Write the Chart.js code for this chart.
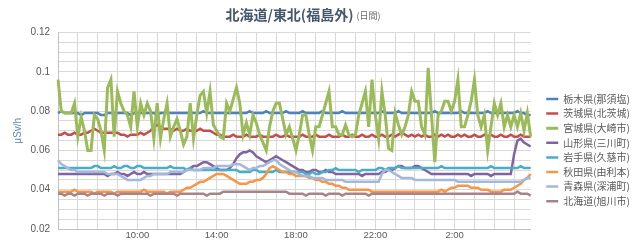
<!DOCTYPE html>
<html>
<head>
<meta charset="utf-8">
<script src="https://cdn.jsdelivr.net/npm/chart.js@4.4.1/dist/chart.umd.min.js"></script>
<style>
  html, body { margin: 0; padding: 0; background: #fff; }
</style>
</head>
<body>
<canvas id="myChart" width="640" height="240"></canvas>
<script>
// 10-minute readings, 6:00 -> 5:50 next day
let timeLabels = [];
for (let i = 0; i < 144; i++) {
  let m = 6 * 60 + i * 10;
  timeLabels.push((Math.floor(m / 60) % 24) + ':' + String(m % 60).padStart(2, '0'));
}
let shownHours = ['10:00', '14:00', '18:00', '22:00', '2:00'];
let yTickLabels = [0.02, 0.04, 0.06, 0.08, 0.1, 0.12];

let mainTitle = '北海道/東北(福島外)';
let subTitle = '(日間)';
let yTitle = 'μSv/h';

let seriesNames = ['栃木県(那須塩)', '茨城県(北茨城)', '宮城県(大崎市)', '山形県(三川町)',
  '岩手県(久慈市)', '秋田県(由利本)', '青森県(深浦町)', '北海道(旭川市)'];

let tochigi = [
  0.079,0.080,0.079,0.079,0.079,0.079,0.079,0.078,0.079,0.079,0.079,0.079,
  0.079,0.078,0.078,0.079,0.079,0.079,0.079,0.079,0.079,0.079,0.078,0.079,
  0.079,0.079,0.079,0.079,0.079,0.079,0.078,0.079,0.079,0.079,0.079,0.079,
  0.079,0.079,0.079,0.079,0.079,0.079,0.079,0.079,0.080,0.079,0.079,0.079,
  0.079,0.079,0.079,0.079,0.079,0.079,0.079,0.079,0.079,0.079,0.080,0.079,
  0.079,0.079,0.079,0.080,0.079,0.079,0.079,0.079,0.079,0.080,0.079,0.079,
  0.079,0.079,0.080,0.079,0.079,0.079,0.079,0.079,0.080,0.079,0.079,0.079,
  0.079,0.079,0.080,0.079,0.079,0.079,0.079,0.079,0.079,0.079,0.079,0.079,
  0.079,0.079,0.080,0.079,0.079,0.079,0.079,0.080,0.079,0.079,0.079,0.079,
  0.079,0.079,0.079,0.079,0.079,0.079,0.080,0.079,0.079,0.079,0.079,0.079,
  0.079,0.079,0.080,0.079,0.079,0.079,0.079,0.079,0.079,0.079,0.080,0.079,
  0.079,0.079,0.079,0.079,0.079,0.079,0.079,0.080,0.079,0.079,0.078,0.078
];
let ibaraki = [
  0.068,0.068,0.069,0.068,0.068,0.069,0.068,0.068,0.069,0.069,0.070,0.071,
  0.070,0.069,0.069,0.069,0.069,0.069,0.069,0.068,0.068,0.067,0.068,0.068,
  0.068,0.069,0.068,0.069,0.070,0.072,0.073,0.072,0.071,0.071,0.071,0.070,
  0.071,0.070,0.070,0.071,0.070,0.070,0.070,0.071,0.070,0.070,0.070,0.069,
  0.068,0.068,0.067,0.067,0.067,0.068,0.067,0.067,0.067,0.068,0.067,0.067,
  0.067,0.068,0.067,0.067,0.067,0.067,0.068,0.067,0.067,0.068,0.067,0.067,
  0.067,0.067,0.068,0.067,0.067,0.067,0.068,0.067,0.067,0.067,0.068,0.067,
  0.067,0.067,0.068,0.067,0.067,0.068,0.067,0.067,0.068,0.067,0.067,0.068,
  0.067,0.067,0.068,0.067,0.067,0.068,0.067,0.068,0.069,0.068,0.067,0.068,
  0.067,0.068,0.067,0.068,0.067,0.067,0.068,0.067,0.068,0.067,0.068,0.067,
  0.067,0.068,0.067,0.068,0.067,0.067,0.068,0.067,0.067,0.068,0.067,0.068,
  0.067,0.067,0.068,0.067,0.067,0.068,0.067,0.067,0.068,0.067,0.067,0.067
];
let miyagi = [
  0.096,0.080,0.079,0.079,0.079,0.084,0.067,0.077,0.070,0.060,0.060,0.078,
  0.076,0.070,0.060,0.092,0.096,0.067,0.090,0.084,0.080,0.078,0.072,0.090,
  0.072,0.084,0.078,0.084,0.080,0.066,0.084,0.066,0.076,0.084,0.067,0.072,
  0.076,0.070,0.063,0.067,0.084,0.066,0.078,0.088,0.090,0.079,0.090,0.073,
  0.070,0.067,0.066,0.084,0.080,0.086,0.092,0.084,0.068,0.074,0.068,0.078,
  0.074,0.068,0.064,0.060,0.072,0.080,0.084,0.084,0.076,0.068,0.072,0.066,
  0.060,0.068,0.078,0.078,0.068,0.060,0.072,0.072,0.078,0.084,0.090,0.072,
  0.072,0.068,0.068,0.073,0.068,0.067,0.068,0.078,0.084,0.090,0.072,0.096,
  0.078,0.066,0.090,0.078,0.061,0.060,0.079,0.073,0.068,0.072,0.078,0.090,
  0.085,0.085,0.072,0.068,0.102,0.078,0.054,0.078,0.080,0.085,0.085,0.080,
  0.085,0.096,0.072,0.072,0.078,0.085,0.096,0.078,0.072,0.078,0.060,0.072,
  0.084,0.078,0.084,0.072,0.078,0.072,0.078,0.072,0.079,0.070,0.079,0.067
];
let yamagata = [
  0.048,0.048,0.048,0.048,0.048,0.048,0.048,0.048,0.048,0.048,0.048,0.048,
  0.048,0.048,0.048,0.047,0.048,0.048,0.049,0.048,0.048,0.047,0.048,0.049,
  0.048,0.048,0.049,0.048,0.048,0.048,0.048,0.048,0.048,0.048,0.048,0.048,
  0.048,0.048,0.049,0.050,0.051,0.052,0.052,0.053,0.054,0.054,0.053,0.052,
  0.051,0.050,0.050,0.050,0.051,0.053,0.056,0.058,0.059,0.059,0.060,0.059,
  0.057,0.056,0.055,0.054,0.055,0.056,0.057,0.056,0.055,0.054,0.053,0.052,
  0.051,0.050,0.050,0.049,0.049,0.050,0.050,0.049,0.049,0.050,0.049,0.049,
  0.048,0.048,0.048,0.048,0.048,0.048,0.048,0.048,0.047,0.048,0.048,0.048,
  0.048,0.048,0.049,0.049,0.050,0.050,0.051,0.052,0.052,0.051,0.051,0.051,
  0.052,0.052,0.051,0.050,0.049,0.048,0.048,0.048,0.048,0.048,0.048,0.048,
  0.048,0.048,0.048,0.048,0.048,0.047,0.048,0.048,0.048,0.048,0.048,0.047,
  0.048,0.048,0.048,0.048,0.048,0.048,0.058,0.065,0.066,0.064,0.063,0.062
];
let iwate = [
  0.051,0.051,0.051,0.051,0.051,0.051,0.051,0.051,0.051,0.051,0.051,0.052,
  0.052,0.051,0.051,0.051,0.051,0.052,0.051,0.051,0.052,0.052,0.051,0.051,
  0.052,0.052,0.051,0.051,0.051,0.051,0.051,0.051,0.051,0.051,0.052,0.051,
  0.051,0.051,0.051,0.050,0.051,0.050,0.050,0.050,0.050,0.050,0.050,0.050,
  0.050,0.050,0.050,0.050,0.050,0.050,0.050,0.049,0.049,0.049,0.049,0.050,
  0.050,0.049,0.049,0.049,0.049,0.049,0.050,0.049,0.049,0.049,0.049,0.049,
  0.049,0.049,0.049,0.048,0.048,0.049,0.048,0.048,0.049,0.049,0.050,0.050,
  0.051,0.050,0.050,0.050,0.050,0.050,0.050,0.049,0.050,0.050,0.050,0.050,
  0.050,0.051,0.051,0.050,0.051,0.051,0.051,0.052,0.051,0.051,0.051,0.051,
  0.051,0.051,0.051,0.051,0.051,0.051,0.051,0.051,0.052,0.051,0.051,0.051,
  0.051,0.051,0.051,0.051,0.051,0.051,0.051,0.051,0.051,0.051,0.051,0.052,
  0.051,0.051,0.051,0.051,0.051,0.051,0.051,0.051,0.052,0.051,0.051,0.051
];
let akita = [
  0.039,0.039,0.039,0.039,0.039,0.040,0.039,0.039,0.039,0.039,0.039,0.038,
  0.039,0.039,0.039,0.039,0.039,0.038,0.039,0.039,0.039,0.039,0.039,0.039,
  0.039,0.039,0.040,0.039,0.039,0.039,0.039,0.039,0.039,0.038,0.039,0.039,
  0.039,0.039,0.040,0.041,0.041,0.042,0.043,0.044,0.044,0.045,0.046,0.047,
  0.048,0.048,0.048,0.047,0.046,0.045,0.044,0.043,0.043,0.043,0.044,0.044,
  0.045,0.045,0.046,0.048,0.051,0.052,0.051,0.050,0.049,0.049,0.048,0.048,
  0.047,0.047,0.047,0.047,0.046,0.046,0.045,0.045,0.044,0.044,0.043,0.043,
  0.042,0.042,0.041,0.041,0.040,0.040,0.040,0.040,0.040,0.040,0.040,0.039,
  0.039,0.039,0.039,0.039,0.039,0.039,0.039,0.039,0.039,0.039,0.039,0.039,
  0.039,0.039,0.039,0.039,0.039,0.039,0.039,0.039,0.040,0.039,0.040,0.041,
  0.041,0.042,0.042,0.042,0.042,0.041,0.041,0.041,0.040,0.040,0.040,0.039,
  0.039,0.039,0.039,0.040,0.040,0.040,0.041,0.042,0.043,0.045,0.046,0.048
];
let aomori = [
  0.055,0.053,0.052,0.051,0.050,0.050,0.049,0.049,0.049,0.049,0.049,0.049,
  0.049,0.049,0.049,0.048,0.048,0.048,0.048,0.047,0.046,0.045,0.045,0.045,
  0.045,0.045,0.046,0.047,0.047,0.048,0.048,0.048,0.048,0.048,0.049,0.049,
  0.049,0.049,0.049,0.050,0.050,0.050,0.050,0.050,0.051,0.051,0.051,0.051,
  0.052,0.052,0.052,0.052,0.052,0.053,0.053,0.053,0.052,0.051,0.050,0.051,
  0.051,0.052,0.052,0.053,0.054,0.055,0.055,0.053,0.052,0.051,0.050,0.049,
  0.049,0.048,0.047,0.047,0.047,0.046,0.046,0.046,0.046,0.045,0.045,0.045,
  0.045,0.045,0.045,0.044,0.044,0.044,0.044,0.044,0.044,0.044,0.044,0.044,
  0.044,0.044,0.048,0.050,0.050,0.049,0.048,0.047,0.046,0.046,0.046,0.046,
  0.045,0.045,0.045,0.045,0.045,0.045,0.045,0.045,0.045,0.045,0.045,0.045,
  0.045,0.044,0.044,0.044,0.044,0.044,0.044,0.044,0.044,0.044,0.044,0.044,
  0.044,0.044,0.044,0.044,0.044,0.044,0.044,0.044,0.044,0.045,0.046,0.046
];
let hokkaido = [
  0.038,0.038,0.037,0.038,0.038,0.037,0.038,0.038,0.038,0.037,0.038,0.038,
  0.038,0.038,0.037,0.038,0.038,0.038,0.037,0.038,0.038,0.038,0.038,0.038,
  0.038,0.038,0.038,0.038,0.037,0.038,0.038,0.038,0.038,0.038,0.038,0.038,
  0.037,0.038,0.038,0.038,0.038,0.038,0.038,0.038,0.038,0.037,0.038,0.038,
  0.038,0.038,0.039,0.039,0.039,0.039,0.039,0.039,0.039,0.039,0.039,0.039,
  0.039,0.039,0.039,0.039,0.039,0.039,0.039,0.039,0.039,0.039,0.038,0.038,
  0.038,0.038,0.038,0.037,0.038,0.038,0.038,0.038,0.038,0.037,0.038,0.038,
  0.038,0.038,0.037,0.038,0.038,0.038,0.038,0.038,0.038,0.038,0.037,0.038,
  0.038,0.038,0.038,0.038,0.038,0.038,0.038,0.038,0.038,0.038,0.038,0.038,
  0.038,0.038,0.038,0.038,0.038,0.038,0.038,0.038,0.038,0.038,0.038,0.038,
  0.038,0.038,0.038,0.038,0.038,0.038,0.038,0.038,0.038,0.038,0.038,0.038,
  0.038,0.038,0.038,0.038,0.038,0.038,0.038,0.039,0.038,0.038,0.038,0.037
];

let seriesValues = [tochigi, ibaraki, miyagi, yamagata, iwate, akita, aomori, hokkaido];
let lineColors = ['#4f81bd', '#c0504d', '#9bbb59', '#8064a2', '#4bacc6', '#f79646', '#a3b9db', '#a7838a'];

const fontFamily = '"Liberation Sans", "Noto Sans CJK JP", sans-serif';
const cjkFamily = '"Noto Sans CJK JP", sans-serif';

// title with a smaller suffix, drawn straight onto the canvas
const titlePlugin = {
  id: 'titleText',
  afterDraw(chart) {
    let ctx = chart.ctx;
    ctx.save();
    ctx.textBaseline = 'middle';
    ctx.font = 'bold 14px ' + cjkFamily;
    let w1 = ctx.measureText(mainTitle).width;
    ctx.font = '9px ' + cjkFamily;
    let w2 = ctx.measureText(subTitle).width;
    let x0 = 303 - (w1 + 3 + w2) / 2;
    ctx.font = 'bold 14px ' + cjkFamily;
    ctx.fillStyle = '#46566c';
    ctx.fillText(mainTitle, x0, 15);
    ctx.font = '9px ' + cjkFamily;
    ctx.fillStyle = '#6b6b6b';
    ctx.fillText(subTitle, x0 + w1 + 3, 16);
    ctx.restore();
  }
};

let datasets = seriesNames.map((name, k) => ({
  label: name,
  data: seriesValues[k],
  yAxisID: 'y',
  borderColor: lineColors[k],
  backgroundColor: lineColors[k],
  borderWidth: k === 2 ? 3 : 2.5,
  pointRadius: 0,
  tension: 0,
  order: seriesNames.length - k
}));

let myChart = document.getElementById('myChart').getContext('2d');
let chart = new Chart(myChart, {
  type: 'line',
  data: { labels: timeLabels, datasets: datasets },
  plugins: [titlePlugin],
  options: {
    responsive: false,
    animation: false,
    devicePixelRatio: 1,
    layout: { padding: { top: 32.5, right: 0, bottom: 0, left: 0 } },
    plugins: {
      tooltip: { enabled: false },
      title: { display: false },
      legend: {
        position: 'right',
        align: 'start',
        // blank title only pushes the items down
        title: { display: true, text: ' ', font: { size: 10 }, padding: { top: 44.9, bottom: 0 } },
        labels: {
          usePointStyle: true,
          pointStyle: 'line',
          pointStyleWidth: 12,
          boxHeight: 10,
          color: '#595959',
          font: { family: cjkFamily, size: 10 },
          padding: 4.6,
          sort: (a, b) => a.datasetIndex - b.datasetIndex
        }
      }
    },
    scales: {
      x: {
        afterFit: s => { s.height = 11; },
        ticks: {
          autoSkip: false,
          maxRotation: 0,
          minRotation: 0,
          padding: 1,
          color: '#595959',
          font: { family: fontFamily, size: 9.5 },
          callback: function (v, i) {
            let lab = timeLabels[i];
            if (shownHours.includes(lab)) return lab;
            if (lab.endsWith(':00')) return '';
            return null;
          }
        },
        grid: { color: '#d9d9d9', drawTicks: false },
        border: { color: '#bfbfbf' }
      },
      y: {
        min: 0.02,
        max: 0.12,
        afterFit: s => { s.width = 58; s.paddingTop = 4; s.paddingBottom = 4; },
        ticks: {
          stepSize: 0.005,
          autoSkip: false,
          padding: 8,
          color: '#595959',
          font: { family: fontFamily, size: 10 },
          callback: function (v) {
            let hit = yTickLabels.find(t => Math.abs(t - v) < 1e-9);
            return hit === undefined ? '' : String(hit);
          }
        },
        grid: { color: '#d9d9d9', drawTicks: false },
        border: { color: '#bfbfbf' },
        title: {
          display: true,
          text: yTitle,
          color: '#5a87be',
          font: { family: fontFamily, size: 10 },
          padding: { top: 12, bottom: 0 }
        }
      },
      // empty strip between plot and legend
      gap: {
        type: 'linear',
        position: 'right',
        display: true,
        afterFit: s => { s.width = 11; },
        grid: { display: false },
        border: { display: false },
        ticks: { display: false }
      }
    }
  }
});
</script>
</body>
</html>
